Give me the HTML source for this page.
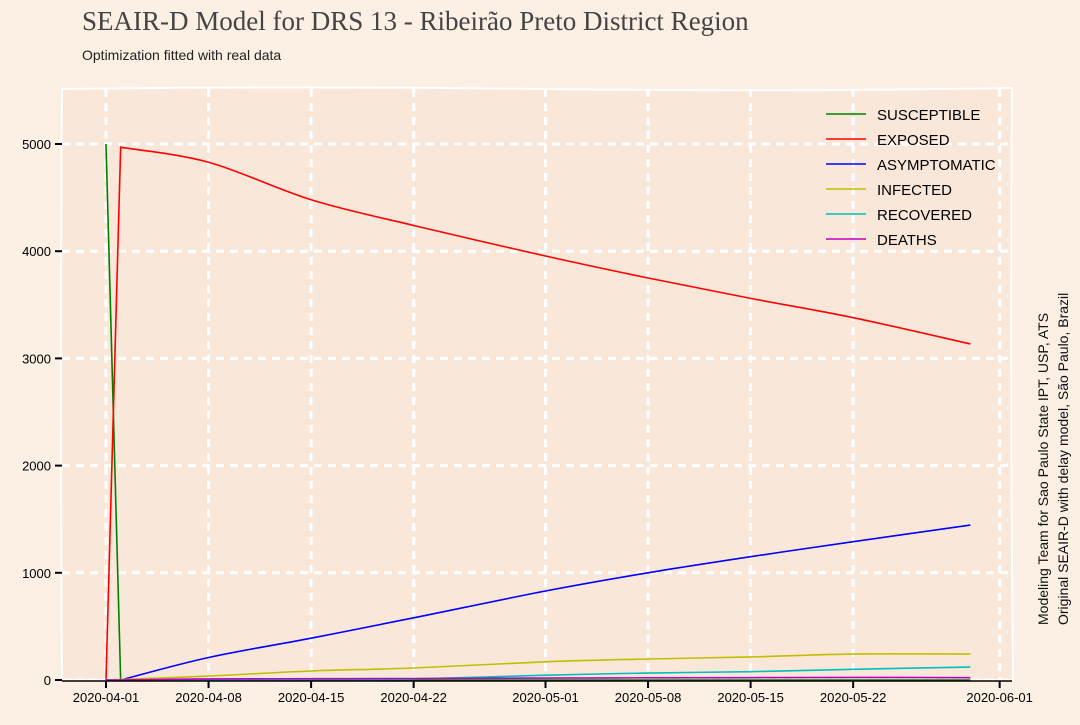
<!DOCTYPE html>
<html><head><meta charset="utf-8"><style>
body{margin:0;background:#fcefe4;width:1080px;height:720px;overflow:hidden;font-family:"Liberation Sans",sans-serif}
svg text{font-family:"Liberation Sans",sans-serif}
</style></head><body>
<svg id="c" width="1080" height="720">
<rect x="0" y="0" width="1080" height="720" fill="#fcefe4"/>
<text x="82" y="30" font-size="27" fill="#444" style="font-family:'Liberation Serif',serif">SEAIR-D Model for DRS 13 - Ribeirão Preto District Region</text>
<text x="82" y="60" font-size="14" fill="#222">Optimization fitted with real data</text>
<path d="M62,89 Q300,86 540,89 T1012,88 Q1010,380 1013,680 L62,680 Q60,380 62,89Z" fill="#f9e7da" stroke="#fff" stroke-width="2"/>
<g id="grid"></g>
<g id="series"></g>
<g id="axes"></g>
<g id="legend"></g>
<text transform="translate(1048,625) rotate(-90)" font-size="14" fill="#111">Modeling Team for Sao Paulo State IPT, USP, ATS</text>
<text transform="translate(1068,625) rotate(-90)" font-size="14" fill="#111">Original SEAIR-D with delay model, São Paulo, Brazil</text>
</svg>
<script>
const days=[0,1,7,14,21,30,37,44,51,59];
const susceptible=[5000,0,0,0,0,0,0,0,0,0];
const exposed=[0,4970,4830,4480,4240,3955,3750,3560,3380,3135];
const asymptomatic=[0,0,210,390,580,830,1000,1150,1290,1445];
const infected=[0,5,37,84,112,170,196,215,242,242];
const recovered=[0,0,2,5,10,45,65,78,100,121];
const deaths=[0,0,10,12,14,18,20,22,24,22];
const xTickLabels=["2020-04-01","2020-04-08","2020-04-15","2020-04-22","2020-05-01","2020-05-08","2020-05-15","2020-05-22","2020-06-01"];
const xTickDays=[0,7,14,21,30,37,44,51,61];
const yTicks=[0,1000,2000,3000,4000,5000];
const seriesNames=["SUSCEPTIBLE","EXPOSED","ASYMPTOMATIC","INFECTED","RECOVERED","DEATHS"];
const colors=["#008000","#ff0000","#0000ff","#bfbf00","#00bfbf","#bf00bf"];
const sx=d=>106+d*14.65, sy=v=>680-v*0.1072;
const NS="http://www.w3.org/2000/svg";
function mk(t,a,p){const e=document.createElementNS(NS,t);for(const k in a)e.setAttribute(k,a[k]);p.appendChild(e);return e;}
const grid=document.getElementById('grid'),axes=document.getElementById('axes'),ser=document.getElementById('series'),leg=document.getElementById('legend');
xTickDays.forEach((d,i)=>{const x=sx(d);
 const g=mk('line',{x1:x,x2:x,y1:89,y2:680,stroke:'#fff','stroke-width':3,'stroke-dasharray':'8,6'},grid);
 
 
 const t=mk('line',{x1:x,x2:x,y1:681,y2:688,stroke:'#000','stroke-width':2},axes);
 
 
 const l=mk('text',{x:x,y:702,'text-anchor':'middle','font-size':13,fill:'#000'},axes);l.textContent=xTickLabels[i];
 
 
});
yTicks.forEach(v=>{const y=sy(v);
 const g=mk('line',{x1:62,x2:1012,y1:y,y2:y,stroke:'#fff','stroke-width':3,'stroke-dasharray':'8,6'},grid);
 
 
 const t=mk('line',{x1:55,x2:62,y1:y,y2:y,stroke:'#000','stroke-width':2},axes);
 
 
 const l=mk('text',{x:51,y:y+5,'text-anchor':'end','font-size':13,fill:'#000'},axes);l.textContent=v;
 
 
});
const xa=mk('line',{x1:62,x2:1012,y1:681,y2:681,stroke:'#000','stroke-width':1.5},axes);


function smooth(pts){let d='M'+pts[0][0]+','+pts[0][1]+' L'+pts[1][0]+','+pts[1][1];
 const q=pts.slice(1);
 for(let i=1;i<q.length;i++){const p0=q[Math.max(0,i-2)],p1=q[i-1],p2=q[i],p3=q[Math.min(q.length-1,i+1)];
  const c1=[p1[0]+(p2[0]-p0[0])/6,p1[1]+(p2[1]-p0[1])/6],c2=[p2[0]-(p3[0]-p1[0])/6,p2[1]-(p3[1]-p1[1])/6];
  d+=' C'+c1[0]+','+c1[1]+' '+c2[0]+','+c2[1]+' '+p2[0]+','+p2[1];}
 return d;}
[susceptible,exposed,asymptomatic,infected,recovered,deaths].forEach((arr,k)=>{
 const pts=days.map((d,i)=>[sx(d),sy(arr[i])]);
 const p=mk('path',{d:smooth(pts),fill:'none',stroke:colors[k],'stroke-width':1.6},ser);
 
 
});
seriesNames.forEach((n,k)=>{const y=114+k*25;
 const l=mk('line',{x1:826,x2:866,y1:y,y2:y,stroke:colors[k],'stroke-width':1.6},leg);
 
 
 const t=mk('text',{x:877,y:y+6,'font-size':15,fill:'#000'},leg);t.textContent=n;
 
 
});
</script>
</body></html>
